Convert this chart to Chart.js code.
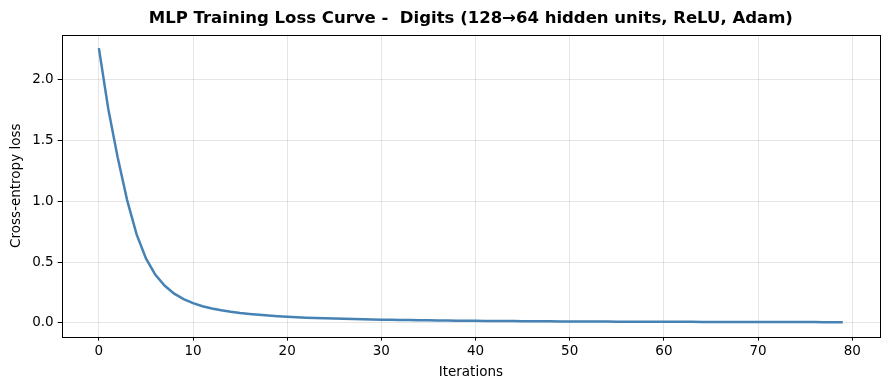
<!DOCTYPE html>
<html>
<head>
<meta charset="utf-8">
<script src="https://cdn.jsdelivr.net/npm/chart.js@4"></script>
<style>
  html, body { margin: 0; padding: 0; background: #fff; }
  #wrap { width: 889px; height: 390px; }
</style>
</head>
<body>
<div id="wrap"><canvas id="loss-chart" width="889" height="390"></canvas></div>
<script>
// loss per iteration
const iterations = Array.from({ length: 80 }, (_, i) => i);
const lossValues = [
  2.26, 1.76, 1.36, 1.01, 0.73, 0.53, 0.395, 0.305, 0.24, 0.195,
  0.162, 0.137, 0.118, 0.103, 0.091, 0.081, 0.073, 0.066, 0.060, 0.055,
  0.050, 0.046, 0.043, 0.040, 0.037, 0.035, 0.033, 0.031, 0.029, 0.028,
  0.026, 0.025, 0.024, 0.023, 0.022, 0.021, 0.020, 0.019, 0.018, 0.0175,
  0.017, 0.016, 0.0155, 0.015, 0.0145, 0.014, 0.0135, 0.013, 0.0126, 0.0122,
  0.0118, 0.0114, 0.011, 0.0107, 0.0104, 0.0101, 0.0098, 0.0095, 0.0093, 0.009,
  0.0088, 0.0086, 0.0084, 0.0082, 0.008, 0.0078, 0.0076, 0.0074, 0.0072, 0.0071,
  0.0069, 0.0068, 0.0066, 0.0065, 0.0064, 0.0062, 0.0061, 0.006, 0.0059, 0.0058,
];
const xTicks = [0, 10, 20, 30, 40, 50, 60, 70, 80];
const yTicks = [0.0, 0.5, 1.0, 1.5, 2.0];

const FONT = 'DejaVu Sans';
const TICK = { family: FONT, size: 13.5 };

// matplotlib-style box around the plot area
const frame = {
  id: 'frame',
  afterDraw(chart) {
    const { ctx, chartArea: a } = chart;
    ctx.save();
    ctx.strokeStyle = '#000';
    ctx.lineWidth = 1;
    ctx.strokeRect(Math.round(a.left) + 0.5, Math.round(a.top) + 0.5,
                   Math.round(a.right - a.left), Math.round(a.bottom - a.top));
    ctx.restore();
  },
};

new Chart(document.getElementById('loss-chart').getContext('2d'), {
  type: 'line',
  data: {
    datasets: [{
      data: iterations.map((x, i) => ({ x, y: lossValues[i] })),
      borderColor: '#4682b4',
      borderWidth: 2.5,
      pointRadius: 0,
      tension: 0,
      fill: false,
    }],
  },
  options: {
    responsive: false,
    animation: false,
    layout: { padding: { left: 8, right: 9, top: 3, bottom: 9 } },
    plugins: {
      legend: { display: false },
      tooltip: { enabled: false },
      title: {
        display: true,
        fullSize: false,
        text: 'MLP Training Loss Curve -  Digits (128→64 hidden units, ReLU, Adam)',
        color: '#000',
        font: { family: FONT, size: 16.5, weight: 'bold' },
        padding: { top: 6, bottom: 6 },
      },
    },
    scales: {
      x: {
        type: 'linear',
        min: -3.95,
        max: 82.95,
        afterBuildTicks: s => { s.ticks = xTicks.map(v => ({ value: v })); },
        ticks: { color: '#000', font: TICK, padding: 3, maxRotation: 0, callback: v => String(v) },
        grid: { color: 'rgba(0,0,0,0.1)', tickColor: '#000', tickLength: 4 },
        border: { display: false },
        title: { display: true, text: 'Iterations', color: '#000', font: TICK, padding: { top: 2, bottom: 0 } },
      },
      y: {
        min: -0.113,
        max: 2.37,
        afterBuildTicks: s => { s.ticks = yTicks.map(v => ({ value: v })); },
        ticks: { color: '#000', font: TICK, padding: 4, callback: v => v.toFixed(1) },
        grid: { color: 'rgba(0,0,0,0.1)', tickColor: '#000', tickLength: 4 },
        border: { display: false },
        title: { display: true, text: 'Cross-entropy loss', color: '#000', font: TICK, padding: { top: 0, bottom: 4 } },
      },
    },
  },
  plugins: [frame],
});
</script>
</body>
</html>
